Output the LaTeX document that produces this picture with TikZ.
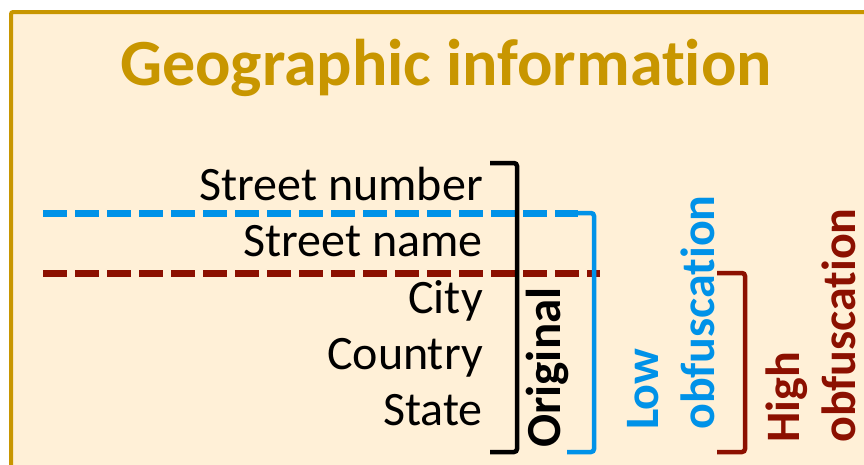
\documentclass[tikz,border=0pt]{standalone}
\usepackage{fontspec}
\setmainfont{Carlito}[Ligatures={NoCommon}]
\definecolor{bgcol}{HTML}{FFF0D7}
\definecolor{goldcol}{HTML}{C89600}
\definecolor{lowcol}{HTML}{0092E8}
\definecolor{highcol}{HTML}{8C1000}
\begin{document}
\begin{tikzpicture}[x=1pt,y=-1pt]
  \tikzstyle{field}=[anchor=base east,inner sep=0pt,font=\fontsize{48}{58}\selectfont]
  \tikzstyle{level}=[rotate=90,anchor=north west,inner sep=0pt,align=left,font=\fontsize{48}{56}\selectfont\bfseries]
  \tikzstyle{brace}=[line width=4.5pt,rounded corners=3pt]
  \tikzstyle{cut}=[line width=7pt,dash pattern=on 24pt off 8pt]
  \useasboundingbox (0,0) rectangle (864,464);
  \clip (0,0) rectangle (864,464);
  \draw[goldcol,line width=4pt,fill=bgcol,rounded corners=2pt] (11,12) rectangle (900,500);
  \node[inner sep=0pt,anchor=base,text=goldcol,font=\fontsize{66}{72}\selectfont\bfseries](title) at (446,85){Geographic information};
  % fields
  \node[field](snum) at (483,200){Street number};
  \node[field](sname) at (483,256){Street name};
  \node[field](city) at (483,313){City};
  \node[field](country) at (483,369){Country};
  \node[field](state) at (483,425){State};
  % cut lines
  \coordinate (lowcut) at (43,213);
  \coordinate (highcut) at (43,273);
  \draw[cut,lowcol] (lowcut) -- (578,213);
  \draw[cut,highcol] (highcut) -- (600,273);
  % brackets
  \draw[brace] (490,163) -- (517,163) -- (517,452) -- (490,452);
  \draw[brace,lowcol] (575,213) -- (594,213) -- (594,452) -- (567,452);
  \draw[brace,highcol] (717,273) -- (745,273) -- (745,452) -- (717,452);
  % levels
  \node[rotate=90,anchor=base west,inner sep=0pt,font=\fontsize{49}{58}\selectfont\bfseries](orig) at (560,448){Original};
  \node[level,text=lowcol](low) at (627,430){Low\\obfuscation};
  \node[level,text=highcol](high) at (766,443){High\\obfuscation};
\end{tikzpicture}
\end{document}
